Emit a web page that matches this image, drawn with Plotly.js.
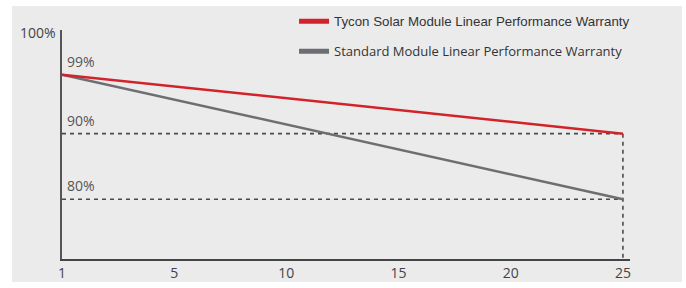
<!DOCTYPE html>
<html>
<head>
<meta charset="utf-8">
<script src="https://cdn.plot.ly/plotly-3.0.1.min.js"></script>
<style>
  html, body { margin: 0; padding: 0; background: #ffffff; }
  #chart { position: absolute; left: 12px; top: 6px; width: 670px; height: 276px; }
</style>
</head>
<body>
<div id="chart"></div>
<script>
// Data
const years = ['1', '5', '10', '15', '20', '25'];
const seriesYears = ['1', '25'];
const tyconValues = [99, 90];
const standardValues = [99, 80];
const refLevels = [90, 80];
const seriesNames = ['Tycon Solar Module Linear Performance Warranty', 'Standard Module Linear Performance Warranty'];
const valueLabels = ['99%', '90%', '80%'];
const labelValues = [99, 90, 80];
const topLabel = '100%';

const RED = '#d2232a';
const GRAY = '#6d6e71';
const DASH = '#4a4a4a';
const Y_RANGE = [70.9, 105.8];

const traces = [];
// Dashed guide lines
refLevels.forEach(v => {
  traces.push({
    x: seriesYears, y: [v, v], mode: 'lines', showlegend: false, hoverinfo: 'skip',
    line: { color: DASH, width: 1.6, dash: '4px,4px' }
  });
});
traces.push({
  x: [seriesYears[1], seriesYears[1]], y: [tyconValues[1], Y_RANGE[0]], mode: 'lines', showlegend: false, hoverinfo: 'skip',
  line: { color: DASH, width: 1.6, dash: '4px,4px' }
});
// Series
traces.push({ x: seriesYears, y: standardValues, mode: 'lines', name: seriesNames[1], showlegend: false, line: { color: GRAY, width: 2.5 } });
traces.push({ x: seriesYears, y: tyconValues, mode: 'lines', name: seriesNames[0], showlegend: false, line: { color: RED, width: 2.5 } });
// Legend entries
traces.push({ x: [null], y: [null], mode: 'lines', legendgroup: 'a', line: { color: RED, width: 5 },
  name: '<span style="font-family:\'Liberation Sans\'; font-size:13.3px">' + seriesNames[0] + '</span>' });
traces.push({ x: [null], y: [null], mode: 'lines', legendgroup: 'b', line: { color: GRAY, width: 5 },
  name: '<span style="font-family:\'Open Sans\'; font-size:13px">' + seriesNames[1] + '</span>' });

const annotations = valueLabels.map((t, i) => ({
  text: t, xref: 'paper', x: 0, xanchor: 'left', xshift: 3,
  yref: 'y', y: labelValues[i], yanchor: 'bottom', yshift: 2,
  showarrow: false, font: { family: 'Open Sans', size: 14, color: '#555' }
}));
annotations.push({
  text: topLabel, xref: 'paper', x: 0, xanchor: 'right', xshift: -4,
  yref: 'paper', y: 1, yanchor: 'middle', yshift: -2,
  showarrow: false, font: { family: 'Open Sans', size: 14, color: '#444' }
});

const layout = {
  width: 670, height: 276,
  paper_bgcolor: '#ebebeb', plot_bgcolor: '#ebebeb',
  margin: { l: 50, r: 52, t: 24, b: 23, autoexpand: false },
  showlegend: true,
  legend: {
    x: 0.4085, y: 1.103, xanchor: 'left', yanchor: 'top',
    bgcolor: 'rgba(0,0,0,0)', font: { family: 'Open Sans', size: 13, color: '#333' },
    tracegroupgap: 10, traceorder: 'grouped'
  },
  xaxis: {
    type: 'category', categoryorder: 'array', categoryarray: years,
    range: [0, 5.063], showgrid: false, zeroline: false,
    showline: true, linecolor: '#444', linewidth: 2,
    ticks: '', tickfont: { family: 'Open Sans', size: 14, color: '#444' },
    fixedrange: true
  },
  yaxis: {
    range: Y_RANGE, showgrid: false, zeroline: false,
    showline: true, linecolor: '#555', linewidth: 2,
    showticklabels: false, ticks: '', fixedrange: true
  },
  annotations: annotations
};

Plotly.newPlot('chart', traces, layout, { displayModeBar: false, staticPlot: true });
</script>
</body>
</html>
